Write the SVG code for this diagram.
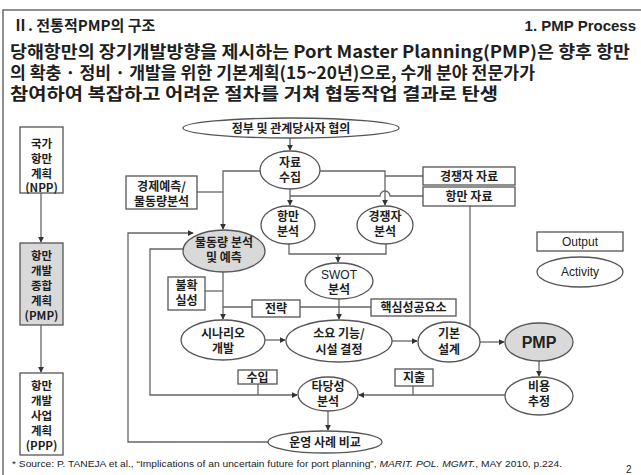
<svg xmlns="http://www.w3.org/2000/svg" width="641" height="475" viewBox="0 0 641 475">
<defs>
<marker id="ah" viewBox="0 0 8 8" refX="7" refY="4" markerWidth="6" markerHeight="6" orient="auto" markerUnits="userSpaceOnUse"><path d="M0,0 L8,4 L0,8 z" fill="#333"/></marker>
<style>
.k{font-family:"Noto Sans CJK KR","Liberation Sans",sans-serif;font-weight:700;fill:#1e1e1e;}
.n{font-size:12px;text-anchor:middle;}
.s{font-size:11.5px;}
.b{fill:#fff;stroke:#555;stroke-width:1.3;}
.g{fill:#d9d9d9;stroke:#555;stroke-width:1.3;}
.c{fill:none;stroke:#666;stroke-width:1.3;}
.a{marker-end:url(#ah);}
.l{font-family:"Liberation Sans",Arial,sans-serif;fill:#222;}
</style>
</defs>
<rect x="0" y="0" width="641" height="475" fill="#fff"/>
<rect x="3" y="10" width="700" height="520" fill="none" stroke="#555" stroke-width="1.3"/>
<text class="k" x="13" y="31" font-size="15">Ⅱ. 전통적PMP의 구조</text>
<text class="l" x="636" y="31" font-size="15" font-weight="700" text-anchor="end">1. PMP Process</text>
<text class="k" x="10" y="58" font-size="17" textLength="620" lengthAdjust="spacingAndGlyphs">당해항만의 장기개발방향을 제시하는 Port Master Planning(PMP)은 향후 항만</text>
<text class="k" x="10" y="79" font-size="17" textLength="525" lengthAdjust="spacingAndGlyphs">의 확충 · 정비 · 개발을 위한 기본계획(15~20년)으로, 수개 분야 전문가가</text>
<text class="k" x="10" y="100" font-size="17" textLength="488" lengthAdjust="spacingAndGlyphs">참여하여 복잡하고 어려운 절차를 거쳐 협동작업 결과로 탄생</text>

<g id="connectors">
<path class="c a" d="M41,193 V242"/>
<path class="c a" d="M41,325 V372"/>
<path class="c a" d="M290,138 V150"/>
<path class="c a" d="M260,171 H223 V229"/>
<path class="c" d="M197,192 H223"/>
<path class="c a" d="M320,171 H385 V205"/>
<path class="c" d="M423,176 H385"/>
<path class="c" d="M423,196 H390 A5,5 0 0 0 380,196 H290"/>
<path class="c a" d="M290,189 V205"/>
<path class="c" d="M289,244 V254 H386 V244"/>
<path class="c a" d="M338,254 V262"/>
<path class="c a" d="M339,299 V319"/>
<path class="c" d="M223,307 H252 M300,307 H371"/>
<path class="c a" d="M223,272 V319"/>
<path class="c" d="M205,291 H223"/>
<path class="c a" d="M265,340 H285"/>
<path class="c a" d="M392,341 H417"/>
<path class="c" d="M470,206 V329"/>
<path class="c a" d="M480,342 H504"/>
<path class="c a" d="M539,361 V376"/>
<path class="c a" d="M505,395 H359"/>
<path class="c" d="M413,386 V395"/>
<path class="c a" d="M185,249 H150 V395 H297"/>
<path class="c" d="M258,384 V395"/>
<path class="c a" d="M268,442 H128 V233 H193"/>
<path class="c a" d="M328,411 V430"/>
</g>

<g id="npp"><rect class="b" x="20" y="127" width="43" height="66"/>
<text class="k n s" x="41.5" y="148">국가</text><text class="k n s" x="41.5" y="163">항만</text><text class="k n s" x="41.5" y="178">계획</text><text class="k n s" x="41.5" y="192">(NPP)</text></g>
<g id="pmp-box"><rect class="g" x="20" y="243" width="43" height="82"/>
<text class="k n s" x="41.5" y="260">항만</text><text class="k n s" x="41.5" y="275">개발</text><text class="k n s" x="41.5" y="290">종합</text><text class="k n s" x="41.5" y="305">계획</text><text class="k n s" x="41.5" y="320">(PMP)</text></g>
<g id="ppp"><rect class="b" x="20" y="373" width="43" height="82"/>
<text class="k n s" x="41.5" y="390">항만</text><text class="k n s" x="41.5" y="405">개발</text><text class="k n s" x="41.5" y="420">사업</text><text class="k n s" x="41.5" y="435">계획</text><text class="k n s" x="41.5" y="450">(PPP)</text></g>

<g id="gov"><ellipse class="b" cx="291" cy="128" rx="108" ry="10"/><text class="k n" x="291" y="133">정부 및 관계당사자 협의</text></g>
<g id="collect"><ellipse class="b" cx="290" cy="170" rx="30" ry="19"/><text class="k n" x="290" y="167">자료</text><text class="k n" x="290" y="182">수집</text></g>
<g id="econ"><rect class="b" x="126" y="176" width="71" height="33"/><text class="k n" x="161.5" y="191">경제예측/</text><text class="k n" x="161.5" y="206">물동량분석</text></g>
<g id="comp-data"><rect class="b" x="423" y="167" width="92" height="18"/><text class="k n" x="469" y="180.5">경쟁자 자료</text></g>
<g id="port-data"><rect class="b" x="423" y="187" width="92" height="19"/><text class="k n" x="469" y="201">항만 자료</text></g>
<g id="port-an"><ellipse class="b" cx="288" cy="225" rx="27" ry="19"/><text class="k n" x="288" y="221">항만</text><text class="k n" x="288" y="236">분석</text></g>
<g id="comp-an"><ellipse class="b" cx="385" cy="225" rx="28" ry="19"/><text class="k n" x="385" y="221">경쟁자</text><text class="k n" x="385" y="236">분석</text></g>
<g id="traffic"><ellipse class="g" cx="224" cy="251" rx="41" ry="21"/><text class="k n" x="224" y="247">물동량 분석</text><text class="k n" x="224" y="262">및 예측</text></g>
<g id="swot"><ellipse class="b" cx="339" cy="281" rx="34" ry="18"/><text class="l" x="339" y="279" font-size="12" text-anchor="middle">SWOT</text><text class="k n" x="339" y="294">분석</text></g>
<g id="uncert"><rect class="b" x="168" y="277" width="37" height="33"/><text class="k n" x="186.5" y="290">불확</text><text class="k n" x="186.5" y="305">실성</text></g>
<g id="strategy"><rect class="b" x="252" y="300" width="48" height="17"/><text class="k n" x="276" y="313">전략</text></g>
<g id="ksf"><rect class="b" x="371" y="299" width="85" height="17"/><text class="k n" x="413.5" y="312">핵심성공요소</text></g>
<g id="scenario"><ellipse class="b" cx="223" cy="340" rx="42" ry="20"/><text class="k n" x="223" y="338">시나리오</text><text class="k n" x="223" y="353">개발</text></g>
<g id="facility"><ellipse class="b" cx="339" cy="341" rx="53" ry="21"/><text class="k n" x="339" y="338">소요 기능/</text><text class="k n" x="339" y="354">시설 결정</text></g>
<g id="design"><ellipse class="b" cx="449" cy="342" rx="31" ry="20"/><text class="k n" x="449" y="338">기본</text><text class="k n" x="449" y="354">설계</text></g>
<g id="pmp"><ellipse class="g" cx="539" cy="342" rx="34" ry="19"/><text class="l" x="539" y="348" font-size="16" font-weight="700" text-anchor="middle">PMP</text></g>
<g id="cost"><ellipse class="b" cx="539" cy="396" rx="34" ry="19"/><text class="k n" x="539" y="391">비용</text><text class="k n" x="539" y="406">추정</text></g>
<g id="feasibility"><ellipse class="b" cx="328" cy="394" rx="30" ry="17"/><text class="k n" x="328" y="391">타당성</text><text class="k n" x="328" y="406">분석</text></g>
<g id="income"><rect class="b" x="238" y="370" width="39" height="14"/><text class="k n" x="257.5" y="381.5">수입</text></g>
<g id="expense"><rect class="b" x="395" y="369" width="38" height="17"/><text class="k n" x="414" y="382">지출</text></g>
<g id="ops"><ellipse class="b" cx="325" cy="442" rx="57" ry="11"/><text class="k n" x="325" y="447">운영 사례 비교</text></g>
<g id="legend-output"><rect class="b" x="537" y="232" width="86" height="19"/><text class="l" x="580" y="246" font-size="12" text-anchor="middle">Output</text></g>
<g id="legend-activity"><ellipse class="b" cx="580" cy="272" rx="43" ry="15"/><text class="l" x="580" y="276" font-size="12" text-anchor="middle">Activity</text></g>

<text class="l" x="12" y="467" font-size="8.5" textLength="550" lengthAdjust="spacingAndGlyphs">* Source: P. TANEJA  et al., “Implications of an uncertain future for port planning”, <tspan font-style="italic">MARIT. POL. MGMT.</tspan>, MAY 2010, p.224.</text>
<text class="l" x="626" y="473" font-size="10" fill="#555">2</text>
</svg>
